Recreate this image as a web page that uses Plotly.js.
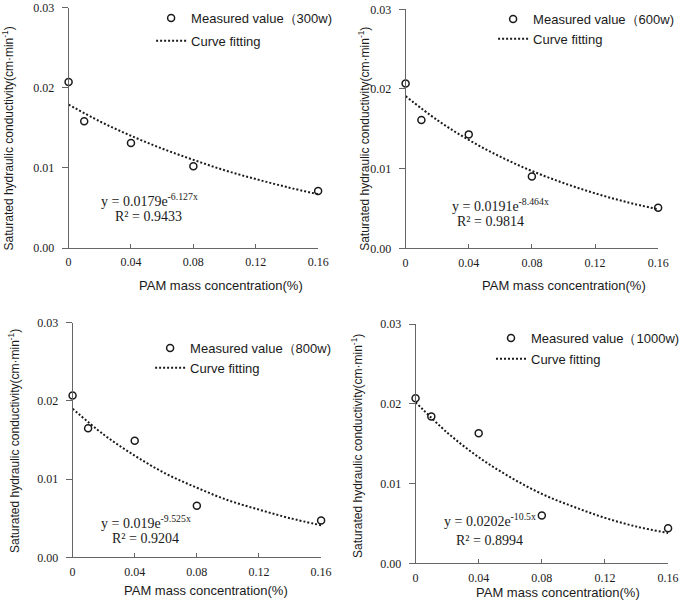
<!DOCTYPE html>
<html>
<head>
<meta charset="utf-8">
<script src="https://cdn.plot.ly/plotly-3.0.1.min.js"></script>
<style>html,body{margin:0;padding:0;background:#fff;}#chart{width:685px;height:608px;}</style>
</head>
<body>
<div id="chart"></div>
<script>
// ---- data ----
var xMeasured = [0, 0.01, 0.04, 0.08, 0.16];
var m300  = [0.0207, 0.0158, 0.0131, 0.0102, 0.0071];
var m600  = [0.0207, 0.0161, 0.0143, 0.0090, 0.0051];
var m800  = [0.0207, 0.0165, 0.0149, 0.0066, 0.0047];
var m1000 = [0.0207, 0.0184, 0.0163, 0.0060, 0.0044];

var xFit = [0, 0.02, 0.04, 0.06, 0.08, 0.10, 0.12, 0.14, 0.16];
var f300  = [0.0179, 0.0158, 0.0140, 0.0124, 0.0110, 0.0097, 0.0086, 0.0076, 0.0067];
var f600  = [0.0191, 0.0161, 0.0136, 0.0115, 0.0097, 0.0082, 0.0069, 0.0058, 0.0049];
var f800  = [0.0190, 0.0157, 0.0130, 0.0107, 0.0089, 0.0073, 0.0061, 0.0050, 0.0041];
var f1000 = [0.0202, 0.0164, 0.0133, 0.0108, 0.0087, 0.0071, 0.0057, 0.0046, 0.0038];

var powers = ['300w', '600w', '800w', '1000w'];
var equations = ['y = 0.0179e<sup>-6.127x</sup>', 'y = 0.0191e<sup>-8.464x</sup>',
                 'y = 0.019e<sup>-9.525x</sup>', 'y = 0.0202e<sup>-10.5x</sup>'];
var r2Labels = ['R² = 0.9433', 'R² = 0.9814', 'R² = 0.9204', 'R² = 0.8994'];

var xTickVals = [0, 0.04, 0.08, 0.12, 0.16];
var xTickText = ['0', '0.04', '0.08', '0.12', '0.16'];
var yTickVals = [0, 0.01, 0.02, 0.03];
var yTickText = ['0.00', '0.01', '0.02', '0.03'];

var xTitle = 'PAM mass concentration(%)';
var yTitle = 'Saturated hydraulic conductivity(cm·min<sup>-1</sup>)';

var measured = [m300, m600, m800, m1000];
var fits = [f300, f600, f800, f1000];

// ---- layout helpers ----
var W = 685, H = 608;
function fx(p) { return p / W; }
function fy(p) { return 1 - p / H; }

// panel plot areas in px: [left, right, top(0.03), bottom(0)]
var panels = [
  [69, 320, 7.5, 248],
  [408, 662, 9.3, 248.3],
  [73, 323, 322.7, 557.3],
  [418, 672, 324, 563.3]
];
var legendPos = [[152, 3, 3], [496, 4, 0], [151, 333, 0], [494, 323, 1]];
var eqPos = [[100, 200, 114, 216.5], [453, 205, 458, 222], [100, 521.5, 111, 538.5], [445, 520, 456.7, 540]];
var yTitlePos = [[8.5, 138], [366, 139], [14, 441], [359, 446]];
var xTitlePos = [[222, 285], [567, 285], [207, 590], [561, 592]];

var ink = '#1a1a1a';
var axisColor = '#666666';
var sans = '"Liberation Sans", Arial, sans-serif';
var serif = '"Liberation Serif", "Times New Roman", serif';

var data = [];
var layout = {
  width: W, height: H,
  margin: {l: 0, r: 0, t: 0, b: 0},
  paper_bgcolor: '#fff', plot_bgcolor: '#fff',
  showlegend: true,
  annotations: []
};

for (var i = 0; i < 4; i++) {
  var s = i === 0 ? '' : String(i + 1);
  var p = panels[i];
  var lg = i === 0 ? 'legend' : 'legend' + (i + 1);
  data.push({
    type: 'scatter', mode: 'markers', x: xMeasured, y: measured[i],
    xaxis: 'x' + s, yaxis: 'y' + s, name: 'Measured value（' + powers[i] + ')',
    legend: lg, legendgroup: 'm' + i, cliponaxis: false,
    marker: {symbol: 'circle-open', size: 7, color: ink, line: {width: 1.5, color: ink}}
  });
  data.push({
    type: 'scatter', mode: 'lines', x: xFit, y: fits[i],
    xaxis: 'x' + s, yaxis: 'y' + s, name: 'Curve fitting',
    legend: lg, legendgroup: 'f' + i, cliponaxis: false,
    line: {color: ink, width: 2, dash: '2px,2px', shape: 'spline'}
  });
  layout['xaxis' + s] = {
    domain: [fx(p[0]), fx(p[1])], anchor: 'y' + s, range: [0, 0.16],
    tickvals: xTickVals, ticktext: xTickText, ticks: 'inside', ticklen: 4, tickcolor: axisColor,
    showline: true, linecolor: axisColor, linewidth: 1, showgrid: false, zeroline: false,
    tickfont: {family: serif, size: 12, color: ink}, ticklabelstandoff: 3, fixedrange: true
  };
  layout['yaxis' + s] = {
    domain: [fy(p[3]), fy(p[2])], anchor: 'x' + s, range: [0, 0.03],
    tickvals: yTickVals, ticktext: yTickText, ticks: 'outside', ticklen: 6, tickcolor: axisColor,
    showline: true, linecolor: axisColor, linewidth: 1, showgrid: false, zeroline: false,
    tickfont: {family: serif, size: 12, color: ink}, ticklabelstandoff: 5, fixedrange: true
  };
  var L = legendPos[i];
  layout[lg] = {
    x: fx(L[0]), y: fy(L[1]), xanchor: 'left', yanchor: 'top',
    bgcolor: 'rgba(0,0,0,0)', borderwidth: 0, traceorder: 'grouped', tracegroupgap: L[2],
    font: {family: sans, size: 13, color: ink}, itemwidth: 30
  };
  var E = eqPos[i];
  layout.annotations.push({xref: 'paper', yref: 'paper', x: fx(E[0]), y: fy(E[1]), xanchor: 'left', yanchor: 'middle',
    text: equations[i], showarrow: false, font: {family: serif, size: 14, color: ink}});
  layout.annotations.push({xref: 'paper', yref: 'paper', x: fx(E[2]), y: fy(E[3]), xanchor: 'left', yanchor: 'middle',
    text: r2Labels[i], showarrow: false, font: {family: serif, size: 14, color: ink}});
  var YT = yTitlePos[i];
  layout.annotations.push({xref: 'paper', yref: 'paper', x: fx(YT[0]), y: fy(YT[1]), xanchor: 'center', yanchor: 'middle',
    text: yTitle, textangle: -90, showarrow: false, font: {family: sans, size: 12, color: ink}});
  var XT = xTitlePos[i];
  layout.annotations.push({xref: 'paper', yref: 'paper', x: fx(XT[0]), y: fy(XT[1]), xanchor: 'center', yanchor: 'middle',
    text: xTitle, showarrow: false, font: {family: sans, size: 13, color: ink}});
}

Plotly.newPlot('chart', data, layout, {displayModeBar: false, staticPlot: true});
</script>
</body>
</html>
